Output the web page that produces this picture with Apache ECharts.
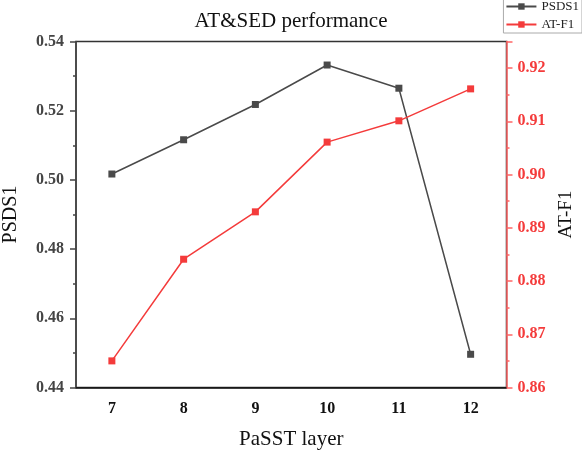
<!DOCTYPE html>
<html>
<head>
<meta charset="utf-8">
<script src="https://cdn.jsdelivr.net/npm/echarts@6/dist/echarts.min.js"></script>
<style>html,body{margin:0;padding:0;background:#fff}#c{width:582px;height:455px}</style>
</head>
<body>
<div id="c"></div>
<script>
const categories = ['7', '8', '9', '10', '11', '12'];
const psds1 = [0.5017, 0.5116, 0.5218, 0.5332, 0.5265, 0.4496];
const atF1 = [0.865, 0.8841, 0.893, 0.9061, 0.9101, 0.9161];
const seriesNames = ['PSDS1', 'AT-F1'];

const FONT = "'Liberation Serif', 'Times New Roman', serif";
const GRAY = '#4a4a4a';
const RED = '#f43b3b';

const chart = echarts.init(document.getElementById('c'), null, {renderer: 'canvas'});
chart.setOption({
  animation: false,
  backgroundColor: '#fff',
  title: {
    text: 'AT&SED performance',
    left: 'center', top: 6,
    textStyle: {fontFamily: FONT, fontSize: 21, fontWeight: 'normal', color: '#111'}
  },
  legend: {
    orient: 'vertical', right: 0, top: -2,
    padding: [2, 3, 2, 2], itemGap: 5,
    itemWidth: 30, itemHeight: 8,
    borderColor: '#aaa', borderWidth: 1,
    textStyle: {fontFamily: FONT, fontSize: 13, color: '#222', lineHeight: 13},
    data: seriesNames
  },
  grid: {
    left: 76, right: 75.5, top: 41.5, bottom: 67.5,
    containLabel: false, outerBoundsMode: 'none',
    show: true, borderColor: '#333', borderWidth: 1.5, backgroundColor: 'transparent'
  },
  xAxis: {
    type: 'category',
    data: categories,
    boundaryGap: true,
    name: 'PaSST layer',
    nameLocation: 'middle', nameGap: 41,
    nameTextStyle: {fontFamily: FONT, fontSize: 21, color: '#111'},
    axisLine: {lineStyle: {color: '#111', width: 1.5}},
    axisTick: {alignWithLabel: true, length: 5, lineStyle: {color: '#111', width: 1.5}},
    axisLabel: {fontFamily: FONT, fontSize: 16, fontWeight: 'bold', color: '#111', margin: 13},
    splitLine: {show: false}
  },
  yAxis: [
    {
      type: 'value', position: 'left',
      min: 0.44, max: 0.54, interval: 0.02,
      name: 'PSDS1', nameLocation: 'middle', nameGap: 55,
      nameTextStyle: {fontFamily: FONT, fontSize: 20, color: '#111'},
      axisLine: {show: true, lineStyle: {color: '#444', width: 1.5}},
      axisTick: {show: true, length: 6, lineStyle: {color: '#444', width: 1.5}},
      minorTick: {show: true, splitNumber: 2, length: 3, lineStyle: {color: '#444', width: 1.5}},
      axisLabel: {fontFamily: FONT, fontSize: 16, fontWeight: 'bold', color: '#444', margin: 12,
        formatter: v => v.toFixed(2)},
      splitLine: {show: false}
    },
    {
      type: 'value', position: 'right',
      min: 0.86, max: 0.925, interval: 0.01,
      name: 'AT-F1', nameLocation: 'middle', nameGap: 49,
      nameTextStyle: {fontFamily: FONT, fontSize: 19, color: '#111'},
      axisLine: {show: true, lineStyle: {color: '#f66', width: 1.5}},
      axisTick: {show: true, length: 6, lineStyle: {color: '#f66', width: 1.5}},
      minorTick: {show: true, splitNumber: 2, length: 3, lineStyle: {color: '#f66', width: 1.5}},
      axisLabel: {fontFamily: FONT, fontSize: 16, fontWeight: 'bold', color: RED, margin: 11,
        showMaxLabel: false, formatter: v => v.toFixed(2)},
      splitLine: {show: false}
    }
  ],
  series: [
    {
      name: seriesNames[0], type: 'line', yAxisIndex: 0,
      data: psds1,
      symbol: 'rect', symbolSize: 7,
      lineStyle: {color: GRAY, width: 1.5},
      itemStyle: {color: GRAY}
    },
    {
      name: seriesNames[1], type: 'line', yAxisIndex: 1,
      data: atF1,
      symbol: 'rect', symbolSize: 7,
      lineStyle: {color: RED, width: 1.5},
      itemStyle: {color: RED}
    }
  ]
});
</script>
</body>
</html>
